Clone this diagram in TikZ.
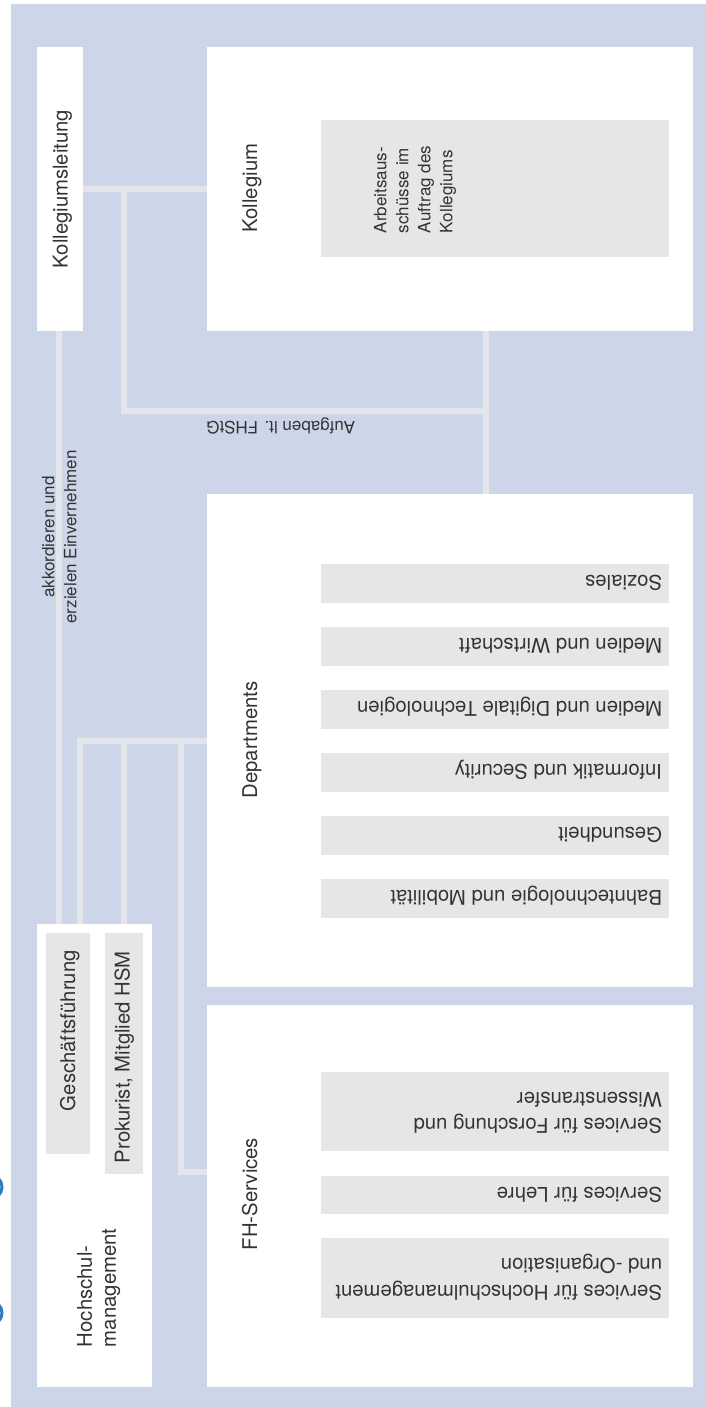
\documentclass[tikz,border=0pt]{standalone}
\usepackage{fontspec}
\setmainfont{TeX Gyre Heros}
\usetikzlibrary{fit,calc,backgrounds}
\definecolor{bgblue}{HTML}{CDD6E9}
\definecolor{itemgrey}{HTML}{E5E6E8}
\definecolor{linegrey}{HTML}{E4E5E8}
\definecolor{txt}{HTML}{333333}
\definecolor{arcblue}{HTML}{2C7CC2}
\begin{document}
\begin{tikzpicture}[x=1pt,y=-1pt,
  panel/.style={fill=white, draw=none, inner sep=0pt, outer sep=0pt},
  itembox/.style={fill=itemgrey, draw=none, inner sep=0pt, outer sep=0pt},
  conn/.style={draw=linegrey, line width=6pt},
  big/.style={font=\fontsize{20.3}{24}\selectfont, text=txt, inner sep=0pt, outer sep=0pt},
  small/.style={font=\fontsize{17}{22}\selectfont, text=txt, inner sep=0pt, outer sep=0pt},
  itemtext/.style={big, rotate=180, anchor=base west},
  twoline/.style={big, font=\fontsize{20.3}{26.5}\selectfont, rotate=180, anchor=north west, align=left},
]
\useasboundingbox (0,0) rectangle (706,1407);
\begin{scope}[on background layer]
  \fill[white] (0,0) rectangle (706,1407);
  \fill[bgblue] (11,4) rectangle (706,1407);
  \begin{scope}
    \clip (0,0) rectangle (706,1407);
    \draw[arcblue, line width=3pt] (-10,1187) circle[radius=12];
    \draw[arcblue, line width=3pt] (-10,1313) circle[radius=12];
  \end{scope}
\end{scope}

% main panels
\node[panel, fit={(37,47) (83,331)}] (kl) {};
\node[panel, fit={(207,47) (693,331)}] (kol) {};
\node[itembox, fit={(321,120) (669,257)}] (aa) {};
\node[panel, fit={(207,494) (693,987)}] (dep) {};
\node[panel, fit={(207,1005) (693,1387)}] (fh) {};
\node[panel, fit={(37,924) (152,1387)}] (hsm) {};
\node[itembox, fit={(46,933) (90,1154)}] (gf) {};
\node[itembox, fit={(105,933) (143,1174)}] (pk) {};

% departments
\foreach \n/\t/\lab in {1/564/Soziales, 2/627/Medien und Wirtschaft, 3/690/Medien und Digitale Technologien, 4/753/Informatik und Security, 5/816/Gesundheit, 6/879/Bahntechnologie und Mobilität} {
  \node[itembox, fit={(321,\t) (669,\t+39)}] (d\n) {};
  \node[itemtext] (dt\n) at ($(d\n.east)+(-7,-8)$) {\lab};
}

% FH services
\node[itembox, fit={(321,1072) (669,1151)}] (f1) {};
\node[twoline] (ft1) at ($(f1.east)+(-7,22.3)$) {Services für Forschung und\\Wissenstransfer};
\node[itembox, fit={(321,1176) (669,1214)}] (f2) {};
\node[itemtext] (ft2) at ($(f2.east)+(-7,-8)$) {Services für Lehre};
\node[itembox, fit={(321,1238) (669,1318)}] (f3) {};
\node[twoline] (ft3) at ($(f3.east)+(-7,22.3)$) {Services für Hochschulmanagement\\und -Organisation};

% labels
\node[big, rotate=90, anchor=base] (tkl) at (67.5,189) {Kollegiumsleitung};
\node[big, rotate=90, anchor=base] (tkol) at (257,188) {Kollegium};
\node[big, rotate=90, anchor=base] (tdep) at (257,740) {Departments};
\node[big, rotate=90, anchor=base] (tfh) at (257,1194) {FH-Services};
\node[big, rotate=90, anchor=base west] (tgf) at (75,1111) {Geschäftsführung};
\node[big, rotate=90, anchor=base west] (tpk) at (129.5,1163) {Prokurist, Mitglied HSM};
\node[big, rotate=90, anchor=north west, align=left] (thsm) at (77,1347) {Hochschul-\\management};
\node[small, rotate=90, anchor=north west, align=left] (taa) at (374,233) {Arbeitsaus-\\schüsse im\\Auftrag des\\Kollegiums};
\node[small, rotate=90, anchor=north, align=center] (tak) at (42,537) {akkordieren und\\erzielen Einvernehmen};
\node[small, rotate=180, anchor=base west] (tauf) at (355,421.5) {Aufgaben lt. FHStG};

% connector coordinates
\coordinate (jA) at (124,189);
\coordinate (jB) at (124,411);
\coordinate (jC) at (486,411);
\coordinate (xk) at (58.5,0);
\coordinate (xD) at (80,0);
\coordinate (xE) at (124,0);
\coordinate (xF) at (180.5,0);
\coordinate (jG) at (180.5,1172);

\begin{scope}[on background layer]
  \draw[conn] (kl.east) -- (kol.west);
  \draw[conn] (jA) -- (jB) -- (jC);
  \draw[conn] (kol.south -| jC) -- (dep.north -| jC);
  \draw[conn] (kl.south -| xk) -- (gf.north -| xk);
  \draw[conn] (dep.west) -- (dep.west -| xD) -- (gf.north -| xD);
  \draw[conn] (dep.west -| xE) -- (pk.north -| xE);
  \draw[conn] (dep.west -| xF) -- (jG) -- (jG -| fh.west);
\end{scope}
\end{tikzpicture}
\end{document}
